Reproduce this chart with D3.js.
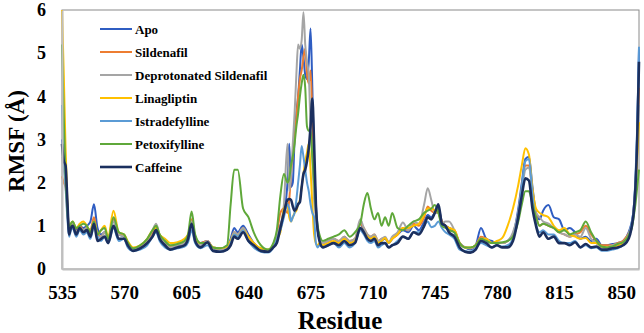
<!DOCTYPE html>
<html>
<head>
<meta charset="utf-8">
<script src="https://cdn.jsdelivr.net/npm/d3@7"></script>
<style>
  body { margin: 0; background: #fff; }
  svg { display: block; }
  svg text { font-family: "Liberation Serif", "Times New Roman", serif; font-weight: bold; fill: #000; }
</style>
</head>
<body>
<svg id="chart" width="644" height="333"></svg>
<script>
// residue numbers shared by every series
const residues = [
  535,536,537,538,539,540,541,543,545,547,
  549,551,553,555,557,559,561,564,567,570,
  572,575,579,583,586,588,590,593,596,600,
  604,606,608,610,613,617,620,624,628,630,
  632,634,637,640,643,647,651,654,656,658,
  660,662,663,664,665,666,667,668,669,670,
  671,672,673,674,675,676,677,678,679,680,
  682,685,688,691,694,697,700,703,705,707,
  709,711,713,715,717,719,721,724,727,730,
  733,736,739,741,743,745,747,749,751,753,
  756,759,762,765,768,771,774,777,780,783,
  786,789,792,794,796,798,800,802,804,806,
  809,812,815,818,821,824,827,830,833,836,
  839,842,845,848,851,853,855,856,857,858,
  859,860
];

const apo = [
  3.0,2.6,2.2,1.5,0.9,1.0,1.05,0.9,1.0,0.95,
  1.0,1.1,1.5,0.95,0.8,0.85,0.7,1.1,0.8,0.75,
  0.6,0.48,0.5,0.65,0.85,0.95,0.75,0.6,0.5,0.55,
  0.6,0.75,1.1,0.75,0.6,0.65,0.48,0.45,0.5,0.7,
  0.95,0.85,1.0,0.8,0.6,0.45,0.42,0.55,0.75,1.0,
  1.3,2.0,2.9,1.9,2.0,3.0,3.6,4.0,4.6,5.2,
  4.9,4.5,4.4,4.8,5.57,4.2,2.5,1.5,0.9,0.7,
  0.6,0.65,0.7,0.6,0.75,0.6,0.65,1.05,0.9,0.75,
  0.7,0.75,0.6,0.65,0.7,0.6,0.7,0.8,0.9,0.85,
  1.0,0.9,1.1,1.25,1.2,1.3,1.4,1.1,1.0,0.95,
  0.85,0.6,0.5,0.45,0.55,0.95,0.7,0.65,0.6,0.6,
  0.65,0.8,1.4,2.0,2.55,2.6,1.9,1.3,1.15,1.35,
  1.48,1.2,1.15,0.9,0.95,0.85,0.7,0.75,0.65,0.7,
  0.55,0.55,0.58,0.6,0.65,0.75,0.95,1.1,1.4,2.0,
  3.2,5.1
];

const sildenafil = [
  2.15,2.0,1.9,1.3,0.9,1.0,1.05,0.85,1.0,0.9,
  0.95,0.9,1.2,0.8,0.75,0.85,0.7,1.15,0.8,0.78,
  0.6,0.45,0.5,0.65,0.85,1.0,0.75,0.6,0.52,0.55,
  0.62,0.75,1.15,0.75,0.6,0.65,0.5,0.48,0.5,0.65,
  0.85,0.8,0.95,0.75,0.6,0.45,0.42,0.55,0.8,1.3,
  1.4,1.3,1.6,2.2,2.6,3.0,3.5,4.0,4.4,4.6,
  4.9,5.1,4.5,4.3,4.6,3.5,2.0,1.3,0.9,0.7,
  0.6,0.65,0.7,0.65,0.75,0.65,0.7,1.05,0.95,0.8,
  0.75,0.8,0.65,0.7,0.72,0.62,0.7,0.8,0.95,0.9,
  1.05,1.0,1.2,1.45,1.35,1.3,1.35,1.1,1.0,0.95,
  0.9,0.6,0.5,0.48,0.55,0.75,0.7,0.6,0.62,0.6,
  0.65,0.8,1.3,1.9,2.4,2.4,1.8,1.25,1.0,1.05,
  1.0,0.95,0.85,0.8,0.75,0.8,0.85,1.0,0.8,0.65,
  0.55,0.55,0.55,0.6,0.65,0.75,0.9,1.05,1.35,1.9,
  2.9,4.2
];

const deprotonated = [
  2.6,2.3,2.0,1.4,0.85,0.95,1.05,0.85,0.95,0.9,
  0.95,0.85,1.1,0.75,0.75,0.85,0.65,1.1,0.8,0.75,
  0.6,0.45,0.5,0.65,0.9,1.05,0.8,0.6,0.5,0.55,
  0.6,0.75,1.1,0.7,0.55,0.65,0.48,0.45,0.5,0.65,
  0.85,0.8,0.95,0.75,0.6,0.45,0.42,0.55,0.8,1.0,
  1.5,2.9,1.8,2.2,2.9,3.6,4.5,5.2,5.1,5.3,
  5.95,5.2,4.8,4.5,3.3,2.6,1.6,1.2,0.9,0.7,
  0.6,0.65,0.7,0.65,0.75,0.65,0.7,1.15,0.95,0.8,
  0.75,0.8,0.65,0.7,0.75,0.62,0.75,0.85,1.08,0.9,
  1.1,1.05,1.5,1.87,1.6,1.3,1.3,1.05,1.1,1.1,
  0.9,0.6,0.5,0.48,0.55,0.7,0.7,0.6,0.62,0.6,
  0.65,0.85,1.3,1.8,2.3,2.35,1.8,1.3,1.2,1.1,
  1.05,0.95,0.85,0.8,0.75,0.8,0.75,0.95,0.7,0.6,
  0.5,0.5,0.55,0.58,0.62,0.72,0.88,1.0,1.3,1.8,
  2.7,3.8
];

const linagliptin = [
  6.0,4.5,2.8,1.6,0.9,1.05,1.1,0.95,1.05,1.1,
  1.0,0.85,1.1,0.8,0.9,1.0,0.75,1.35,0.85,0.8,
  0.65,0.5,0.55,0.7,0.9,0.95,0.8,0.7,0.6,0.62,
  0.7,0.8,1.05,0.7,0.6,0.6,0.5,0.48,0.52,0.65,
  0.8,0.75,0.9,0.75,0.6,0.48,0.45,0.55,0.7,0.85,
  1.4,1.5,1.2,1.1,1.2,1.3,1.35,1.5,1.6,1.9,
  2.2,2.5,2.7,2.9,2.3,1.5,0.8,0.6,0.55,0.6,
  0.55,0.6,0.65,0.6,0.7,0.6,0.65,0.95,0.85,0.75,
  0.7,0.75,0.6,0.65,0.72,0.6,0.7,0.8,0.95,0.95,
  1.0,1.05,1.25,1.4,1.4,1.35,1.3,1.05,1.0,0.95,
  0.9,0.6,0.5,0.5,0.55,0.7,0.7,0.6,0.65,0.72,
  1.0,1.4,1.95,2.4,2.8,2.65,1.85,1.4,1.3,1.25,
  1.2,1.0,0.9,0.95,0.8,0.75,0.7,0.72,0.6,0.6,
  0.52,0.5,0.52,0.55,0.6,0.7,0.85,1.0,1.3,1.8,
  2.6,3.4
];

const istradefylline = [
  3.8,2.6,1.9,1.2,0.75,0.9,0.95,0.75,0.9,0.8,
  0.85,0.7,1.0,0.75,0.65,0.75,0.6,0.95,0.65,0.7,
  0.5,0.42,0.45,0.55,0.75,0.85,0.65,0.5,0.45,0.48,
  0.52,0.62,0.9,0.6,0.48,0.55,0.42,0.4,0.45,0.6,
  0.8,0.75,0.9,0.65,0.5,0.4,0.38,0.5,0.7,0.9,
  1.2,1.5,1.4,1.1,1.2,1.3,1.6,2.0,2.4,2.85,
  2.6,2.3,2.0,1.8,1.5,1.3,1.2,0.6,0.5,0.55,
  0.5,0.55,0.6,0.5,0.6,0.5,0.6,0.9,0.8,0.65,
  0.6,0.65,0.5,0.55,0.6,0.5,0.55,0.65,0.75,0.7,
  0.85,0.85,1.0,1.1,0.97,1.0,1.1,0.95,0.85,0.8,
  0.7,0.45,0.42,0.4,0.48,0.6,0.55,0.5,0.55,0.52,
  0.55,0.7,1.3,1.9,2.5,2.55,1.7,1.05,0.85,0.9,
  0.8,0.8,0.65,0.6,0.6,0.65,0.5,0.55,0.48,0.5,
  0.42,0.42,0.45,0.48,0.55,0.65,0.9,1.1,1.4,2.1,
  3.3,5.15
];

const petoxifylline = [
  5.2,3.5,2.2,1.4,0.9,1.05,1.1,0.95,1.0,1.05,
  1.0,0.85,1.1,0.8,0.9,0.95,0.7,1.2,0.85,0.8,
  0.62,0.48,0.55,0.7,0.9,1.0,0.8,0.65,0.55,0.58,
  0.65,0.8,1.33,0.8,0.6,0.6,0.5,0.48,0.55,1.5,
  2.3,2.3,1.4,1.2,0.85,0.55,0.45,0.6,0.9,1.7,
  2.2,2.0,2.1,2.4,2.6,2.9,3.3,3.6,4.0,4.3,
  4.5,4.2,3.3,3.2,3.2,2.6,2.0,1.4,1.0,0.8,
  0.65,0.7,0.75,0.8,0.9,0.75,0.85,1.05,1.5,1.76,
  1.4,1.15,1.3,1.0,1.2,1.0,1.3,0.95,0.9,1.0,
  1.1,1.15,1.3,1.35,1.4,1.48,1.3,1.0,0.95,0.9,
  0.85,0.6,0.5,0.5,0.55,0.7,0.65,0.6,0.6,0.62,
  0.65,0.75,1.1,1.5,1.8,1.8,1.5,1.2,1.0,1.05,
  1.0,0.95,0.85,0.9,0.8,0.85,0.9,1.1,0.85,0.65,
  0.52,0.5,0.52,0.58,0.62,0.7,0.85,0.95,1.2,1.5,
  1.9,2.3
];

const caffeine = [
  2.9,2.5,2.4,1.6,0.8,0.95,1.0,0.8,0.95,0.85,
  0.9,0.75,1.05,0.65,0.7,0.75,0.6,1.0,0.7,0.7,
  0.55,0.42,0.48,0.6,0.75,0.9,0.7,0.55,0.45,0.5,
  0.55,0.7,1.05,0.65,0.5,0.62,0.42,0.4,0.45,0.55,
  0.75,0.7,0.85,0.65,0.55,0.42,0.4,0.5,0.6,0.95,
  1.3,1.6,1.62,1.6,1.45,1.35,1.4,1.5,1.55,1.9,
  2.2,2.3,2.5,2.8,3.3,3.95,2.9,1.5,0.9,0.65,
  0.5,0.55,0.6,0.55,0.65,0.55,0.6,0.95,0.85,0.7,
  0.65,0.7,0.55,0.6,0.6,0.5,0.55,0.6,0.75,0.7,
  0.85,0.8,1.0,1.2,1.15,1.3,1.5,1.05,1.0,0.85,
  0.75,0.5,0.4,0.38,0.45,0.65,0.6,0.5,0.55,0.5,
  0.5,0.65,1.2,1.7,2.1,2.05,1.4,1.0,0.75,0.85,
  0.7,0.75,0.6,0.6,0.55,0.62,0.5,0.58,0.5,0.52,
  0.45,0.45,0.48,0.5,0.55,0.62,0.8,1.0,1.3,1.9,
  3.0,4.8
];

const seriesNames = ['Apo', 'Sildenafil', 'Deprotonated Sildenafil', 'Linagliptin',
  'Istradefylline', 'Petoxifylline', 'Caffeine'];
const seriesValues = [apo, sildenafil, deprotonated, linagliptin, istradefylline, petoxifylline, caffeine];
const colors = ['#2F5DC2', '#ED7D31', '#A5A5A5', '#FFC000', '#5B9BD5', '#5FA83A', '#1B2F5E'];
const widths = [2, 2, 2, 2, 2, 2, 2.6];

const xTicks = [535, 570, 605, 640, 675, 710, 745, 780, 815, 850];
const yTicks = [0, 1, 2, 3, 4, 5, 6];

const margin = { top: 10, right: 5, bottom: 64, left: 62 };
const W = 644, H = 333;
const width = W - margin.left - margin.right;
const height = H - margin.top - margin.bottom;

const svg = d3.select('#chart');
const g = svg.append('g').attr('transform', `translate(${margin.left},${margin.top})`);

const x = d3.scaleLinear().domain([535, 860]).range([0, width]);
const y = d3.scaleLinear().domain([0, 6]).range([height, 0]);

// frame
g.append('rect')
  .attr('x', 0).attr('y', 0)
  .attr('width', width).attr('height', height)
  .attr('fill', 'none')
  .attr('stroke', '#8a8a8a')
  .attr('stroke-width', 1);

// lines
const line = d3.line()
  .x((d, i) => x(residues[i]))
  .y(d => y(d))
  .curve(d3.curveMonotoneX);

g.selectAll('path.series')
  .data(seriesValues)
  .join('path')
  .attr('class', 'series')
  .attr('d', d => line(d))
  .attr('fill', 'none')
  .attr('stroke', (d, i) => colors[i])
  .attr('stroke-width', (d, i) => widths[i])
  .attr('stroke-linejoin', 'round');

// axes
const xAxis = g.append('g')
  .attr('transform', `translate(0,${height})`)
  .call(d3.axisBottom(x).tickValues(xTicks).tickSize(0).tickPadding(17).tickFormat(d3.format('d')));
xAxis.select('.domain').attr('stroke', '#bfbfbf').attr('stroke-width', 2);
xAxis.selectAll('text').style('font-size', '19px');

const yAxis = g.append('g')
  .call(d3.axisLeft(y).tickValues(yTicks).tickSize(0).tickPadding(16).tickFormat(d3.format('d')));
yAxis.select('.domain').attr('stroke', '#bfbfbf').attr('stroke-width', 2);
yAxis.selectAll('text').style('font-size', '18px');

// axis titles
svg.append('text')
  .attr('x', 340)
  .attr('y', 329)
  .attr('text-anchor', 'middle')
  .style('font-size', '25px')
  .text('Residue');

svg.append('text')
  .attr('transform', `translate(24,${141}) rotate(-90)`)
  .attr('text-anchor', 'middle')
  .style('font-size', '23px')
  .text('RMSF (Å)');

// legend
const legend = svg.append('g').attr('transform', 'translate(100,29)');
seriesNames.forEach((name, i) => {
  legend.append('line')
    .attr('x1', 0).attr('x2', 32)
    .attr('y1', i * 23).attr('y2', i * 23)
    .attr('stroke', colors[i])
    .attr('stroke-width', widths[i]);
  legend.append('text')
    .attr('x', 35).attr('y', i * 23 + 4.5)
    .style('font-size', '13px')
    .text(name);
});
</script>
</body>
</html>
